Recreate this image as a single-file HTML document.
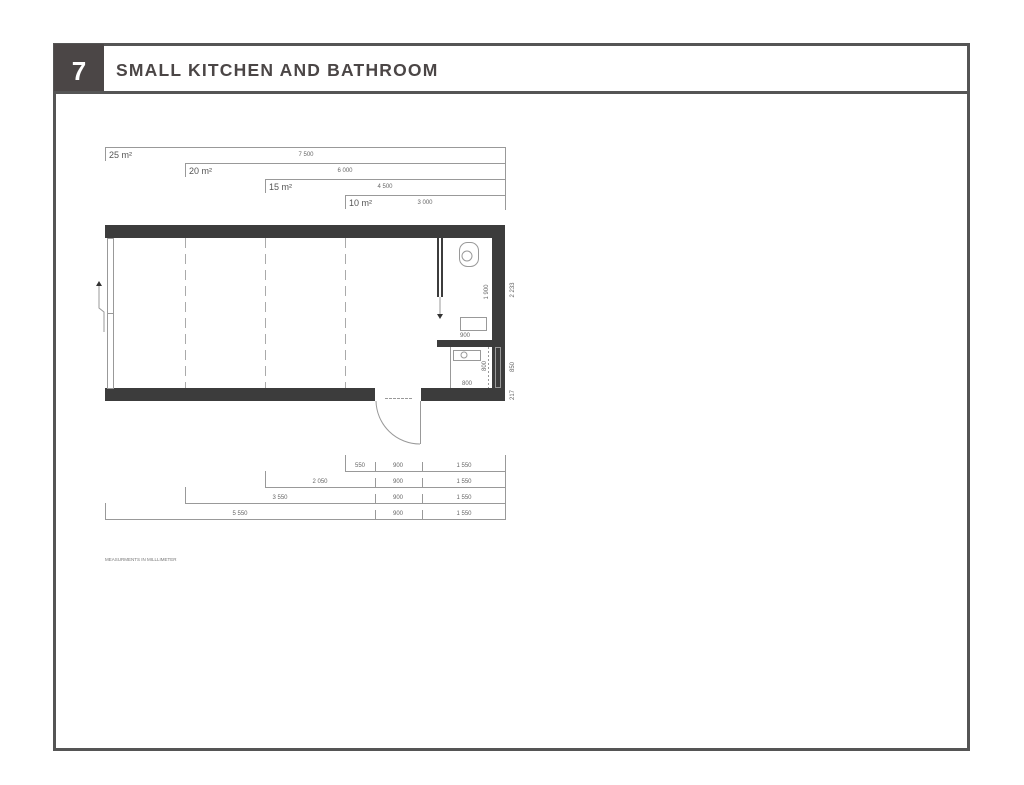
<!DOCTYPE html>
<html><head><meta charset="utf-8"><style>
html,body{margin:0;padding:0;background:#fff}
svg{display:block}
text{font-family:"Liberation Sans",sans-serif}
</style></head><body>
<svg width="1024" height="785" viewBox="0 0 1024 785" xmlns="http://www.w3.org/2000/svg">
<rect x="54.5" y="44.5" width="914" height="705" fill="none" stroke="#555" stroke-width="3"/>
<rect x="54" y="44" width="50" height="49" fill="#4b4646"/>
<line x1="54" y1="92.5" x2="968" y2="92.5" stroke="#555" stroke-width="3"/>
<text x="79" y="80" font-size="26" font-weight="bold" fill="#fff" text-anchor="middle" font-family="Liberation Serif">7</text>
<text x="116" y="76" font-size="17.5" font-weight="bold" fill="#4b4646" letter-spacing="1.2">SMALL KITCHEN AND BATHROOM</text>

<g stroke="#999" stroke-width="1" fill="none">
<path d="M105.5 161V147.5H505.5V210"/>
<path d="M185.5 177V163.5H505.5"/>
<path d="M265.5 193V179.5H505.5"/>
<path d="M345.5 209V195.5H505.5"/>
<path d="M345.5 455V471.5H505.5V455"/>
<path d="M265.5 471V487.5H505.5"/>
<path d="M185.5 487V503.5H505.5"/>
<path d="M105.5 503V519.5H505.5V471"/>
<path d="M375.5 462v10M422.5 462v10M375.5 478v10M422.5 478v10M375.5 494v10M422.5 494v10M375.5 510v10M422.5 510v10"/>
</g>
<g font-size="9" fill="#555">
<text x="109" y="158">25 m²</text><text x="189" y="174">20 m²</text>
<text x="269" y="190">15 m²</text><text x="349" y="206">10 m²</text>
</g>
<g font-size="6" fill="#666" text-anchor="middle">
<text x="306" y="156">7 500</text><text x="345" y="172">6 000</text>
<text x="385" y="188">4 500</text><text x="425" y="204">3 000</text>
<text x="360" y="467">550</text><text x="398" y="467">900</text><text x="464" y="467">1 550</text>
<text x="320" y="483">2 050</text><text x="398" y="483">900</text><text x="464" y="483">1 550</text>
<text x="280" y="499">3 550</text><text x="398" y="499">900</text><text x="464" y="499">1 550</text>
<text x="240" y="515">5 550</text><text x="398" y="515">900</text><text x="464" y="515">1 550</text>
<text x="465" y="337">900</text><text x="467" y="385">800</text>
</g>
<text x="105" y="561" font-size="4.5" fill="#777">MEASURMENTS IN MILLLIMETER</text>
<g font-size="6" fill="#666" text-anchor="middle">
<text transform="translate(488,292) rotate(-90)">1 900</text>
<text transform="translate(514,290) rotate(-90)">2 233</text>
<text transform="translate(486,366) rotate(-90)">800</text>
<text transform="translate(514,367) rotate(-90)">850</text>
<text transform="translate(514,395) rotate(-90)">217</text>
</g>

<g fill="#3c3c3c">
<rect x="105" y="225" width="400" height="13"/>
<rect x="105" y="388" width="270" height="13"/>
<rect x="421" y="388" width="84" height="13"/>
<rect x="492" y="225" width="13" height="176"/>
<rect x="437" y="340" width="55" height="7"/>
<rect x="437" y="238" width="2" height="59"/>
<rect x="441" y="238" width="2" height="59"/>
</g>
<g stroke="#999" stroke-width="1" fill="none">
<rect x="107.5" y="238.5" width="6" height="150"/>
<line x1="107" y1="313.5" x2="114" y2="313.5"/>
<path d="M99 285V308l5 4v20"/>
<path d="M185.5 238V388M265.5 238V388M345.5 238V388" stroke="#aaa" stroke-dasharray="10,6"/>
<line x1="450.5" y1="347" x2="450.5" y2="388"/>
<rect x="495.5" y="347.5" width="5" height="40"/>
<line x1="488.5" y1="347" x2="488.5" y2="388" stroke-dasharray="2,2"/>
<line x1="440" y1="297" x2="440" y2="316"/>
<path d="M385 398.5H412" stroke-dasharray="3,1"/>
<line x1="420.5" y1="401" x2="420.5" y2="444"/>
<path d="M376 401A44 44 0 0 0 420 444"/>
<rect x="459.5" y="242.5" width="19" height="24" rx="8"/>
<circle cx="467" cy="256" r="5"/>
<rect x="460.5" y="317.5" width="26" height="13"/>
<rect x="453.5" y="350.5" width="27" height="10"/>
<circle cx="464" cy="355" r="3"/>
</g>
<path d="M437 314h6l-3 5z" fill="#333"/>
<path d="M96 286h6l-3-5z" fill="#333"/>
</svg>
</body></html>
